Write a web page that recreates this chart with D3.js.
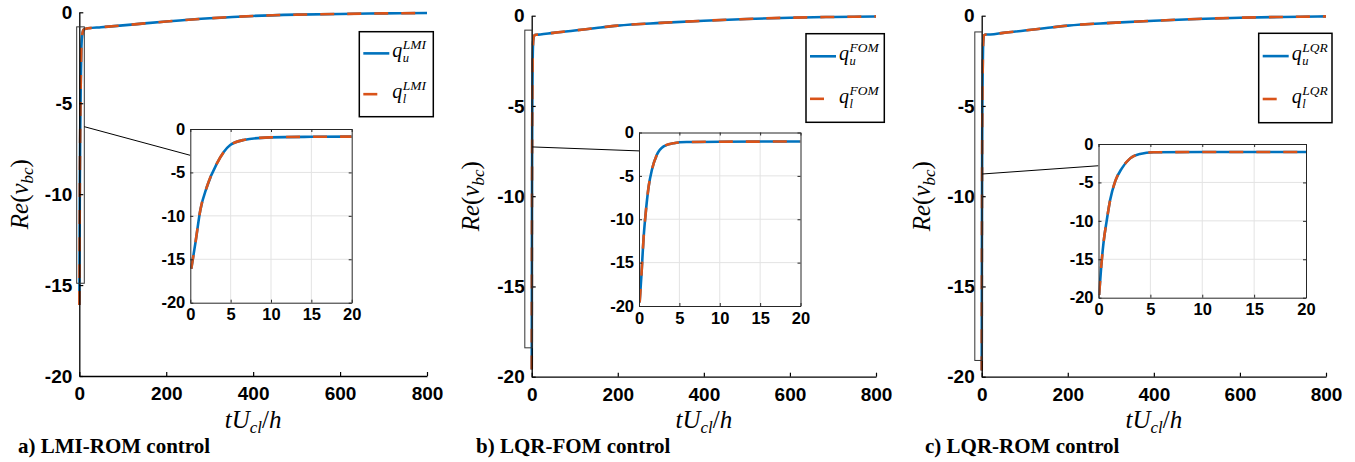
<!DOCTYPE html>
<html><head><meta charset="utf-8">
<script src="https://cdn.jsdelivr.net/npm/d3@7"></script>
<style>body{margin:0;background:#fff}svg{display:block}</style>
</head><body>
<svg id="chart" width="1355" height="462"></svg>
<script>
// ---------- data ----------
const xTicksMain = [0, 200, 400, 600, 800];
const yTicksMain = [-20, -15, -10, -5, 0];
const xTicksInset = [0, 5, 10, 15, 20];
const yTicksInset = [-20, -15, -10, -5, 0];

// a) LMI-ROM control
const tA   = [0.12, 0.62, 1.24, 2.06, 3.3, 4.95, 6.6, 9.9, 15, 20, 50, 100, 150, 200, 300, 400, 500, 600, 700, 800];
const quA  = [-16.1, -13.2, -9.35, -6.65, -3.96, -1.85, -1.27, -0.96, -0.9, -0.88, -0.82, -0.72, -0.61, -0.51, -0.33, -0.2, -0.13, -0.09, -0.06, -0.04];
const qlA  = [-16.1, -13.2, -9.35, -6.65, -3.96, -1.85, -1.27, -0.96, -0.9, -0.88, -0.82, -0.72, -0.61, -0.51, -0.33, -0.2, -0.13, -0.09, -0.06, -0.04];
// b) LQR-FOM control
const tB   = [0.08, 0.29, 0.58, 0.87, 1.2, 1.6, 2.2, 3.05, 4.3, 5.9, 10, 20, 50, 100, 150, 200, 300, 400, 500, 600, 700, 800];
const quB  = [-19.6, -16.6, -12.0, -8.9, -6.2, -4.3, -2.6, -1.6, -1.23, -1.1, -1.06, -1.04, -0.95, -0.82, -0.68, -0.55, -0.4, -0.28, -0.18, -0.11, -0.07, -0.04];
const qlB  = [-19.6, -16.6, -12.0, -8.9, -6.2, -4.3, -2.6, -1.6, -1.23, -1.1, -1.06, -1.04, -0.95, -0.82, -0.68, -0.55, -0.4, -0.28, -0.18, -0.11, -0.07, -0.04];
// c) LQR-ROM control
const tC   = [0.06, 0.26, 0.48, 0.8, 1.12, 1.6, 2.25, 3.05, 4.0, 5.3, 10, 20, 50, 100, 150, 200, 300, 400, 500, 600, 700, 800];
const quC  = [-19.65, -16, -12.9, -9.9, -7.3, -4.9, -3.17, -1.87, -1.3, -1.08, -1.04, -1.04, -0.95, -0.82, -0.68, -0.55, -0.4, -0.28, -0.18, -0.11, -0.07, -0.04];
const qlC  = [-19.65, -16, -12.9, -9.9, -7.3, -4.9, -3.17, -1.87, -1.3, -1.08, -1.04, -1.04, -0.95, -0.82, -0.68, -0.55, -0.4, -0.28, -0.18, -0.11, -0.07, -0.04];

// zoom rectangles [t0, t1, v0, v1] and connectors [tMain, vMain, tInset, vInset]
const rectA = [-6, 11.5, -0.8, -14.9];
const rectB = [-16, 1.4, -0.8, -18.4];
const rectC = [-16, 1.4, -0.9, -19.1];
const connA = [11.5, -6.29, 0, -3.03];
const connB = [1.4, -7.27, 0, -2.12];
const connC = [1.4, -8.77, 0, -2.83];

const legendSup = ["LMI", "FOM", "LQR"];
const captions = ["a) LMI-ROM control", "b) LQR-FOM control", "c) LQR-ROM control"];

// ---------- layout ----------
const panels = [
  {t:tA, u:quA, l:qlA, rect:rectA, conn:connA, sup:legendSup[0], cap:captions[0],
   main:{l:79.3, r:427, t:12.3, b:376}, inset:{l:190.3, r:351.7, t:129, b:302.7},
   leg:{l:359.3, r:433.3, t:31.7, b:116.7}, capX:18, ylabX:27.7},
  {t:tB, u:quB, l:qlB, rect:rectB, conn:connB, sup:legendSup[1], cap:captions[1],
   main:{l:531.7, r:876, t:15.7, b:376.7}, inset:{l:639, r:800.5, t:132.5, b:306},
   leg:{l:806, r:884.3, t:33.7, b:122.3}, capX:476, ylabX:479},
  {t:tC, u:quC, l:qlC, rect:rectC, conn:connC, sup:legendSup[2], cap:captions[2],
   main:{l:981.7, r:1326, t:15.7, b:376.7}, inset:{l:1098.5, r:1306, t:144, b:297.7},
   leg:{l:1258.7, r:1332, t:33.3, b:122.7}, capX:925, ylabX:929.7}
];

const BLUE = "#0072BD", ORANGE = "#D95319";
const SANS = "'Liberation Sans', Arial, Helvetica, sans-serif";
const SERIF = "'Liberation Serif', 'Times New Roman', serif";
const svg = d3.select("#chart");
const defs = svg.append("defs");

function drawCurves(g, x, y, t, u, l, maxT) {
  const pts = (vals) => t.map((d, i) => [d, vals[i]]).filter(p => p[0] <= maxT);
  const line = d3.line().x(d => x(d[0])).y(d => y(d[1])).curve(d3.curveMonotoneX);
  g.append("path").attr("d", line(pts(u))).attr("fill", "none")
    .attr("stroke", BLUE).attr("stroke-width", 2.6);
  g.append("path").attr("d", line(pts(l))).attr("fill", "none")
    .attr("stroke", ORANGE).attr("stroke-width", 2.6).attr("stroke-dasharray", "14,13");
}

panels.forEach((p, pi) => {
  const m = p.main;
  const x = d3.scaleLinear().domain([0, 800]).range([m.l, m.r]);
  const y = d3.scaleLinear().domain([-20, 0]).range([m.b, m.t]);
  const g = svg.append("g");

  drawCurves(g, x, y, p.t, p.u, p.l, 800);

  const ax = g.append("g").attr("transform", `translate(0,${m.b})`)
    .call(d3.axisBottom(x).tickValues(xTicksMain).tickSizeInner(-4).tickSizeOuter(0)
      .tickPadding(11).tickFormat(d => String(d)));
  const ay = g.append("g").attr("transform", `translate(${m.l},0)`)
    .call(d3.axisLeft(y).tickValues(yTicksMain).tickSizeInner(-4).tickSizeOuter(0)
      .tickPadding(7).tickFormat(d => String(d)));
  [ax, ay].forEach(a => {
    a.select(".domain").attr("stroke", "#000").attr("stroke-width", 1.3);
    a.selectAll(".tick line").attr("stroke", "#000").attr("stroke-width", 1.2);
    a.selectAll("text").attr("font-family", SANS).attr("font-weight", "bold")
      .attr("font-size", 19).attr("fill", "#000");
  });

  const r = p.rect;
  g.append("rect").attr("x", x(r[0])).attr("y", y(r[2]))
    .attr("width", x(r[1]) - x(r[0])).attr("height", y(r[3]) - y(r[2]))
    .attr("fill", "none").attr("stroke", "#333").attr("stroke-width", 1);

  const n = p.inset;
  const xi = d3.scaleLinear().domain([0, 20]).range([n.l, n.r]);
  const yi = d3.scaleLinear().domain([-20, 0]).range([n.b, n.t]);

  const c = p.conn;
  g.append("line").attr("x1", x(c[0])).attr("y1", y(c[1]))
    .attr("x2", xi(c[2])).attr("y2", yi(c[3])).attr("stroke", "#000").attr("stroke-width", 1);

  const gi = svg.append("g");
  gi.append("rect").attr("x", n.l).attr("y", n.t).attr("width", n.r - n.l)
    .attr("height", n.b - n.t).attr("fill", "#fff");
  gi.selectAll(".gx").data(xTicksInset.slice(1, -1)).enter().append("line")
    .attr("x1", d => xi(d)).attr("x2", d => xi(d)).attr("y1", n.t).attr("y2", n.b)
    .attr("stroke", "#e3e3e3").attr("stroke-width", 1);
  gi.selectAll(".gy").data(yTicksInset.slice(1, -1)).enter().append("line")
    .attr("y1", d => yi(d)).attr("y2", d => yi(d)).attr("x1", n.l).attr("x2", n.r)
    .attr("stroke", "#e3e3e3").attr("stroke-width", 1);

  const clipId = "clip" + pi;
  defs.append("clipPath").attr("id", clipId).append("rect")
    .attr("x", n.l).attr("y", n.t).attr("width", n.r - n.l).attr("height", n.b - n.t);
  const gc = gi.append("g").attr("clip-path", `url(#${clipId})`);
  drawCurves(gc, xi, yi, p.t, p.u, p.l, 25);

  const styleAx = (a, labels) => {
    a.select(".domain").attr("stroke", "#262626").attr("stroke-width", 1);
    a.selectAll(".tick line").attr("stroke", "#262626");
    a.selectAll("text").attr("font-family", SANS).attr("font-weight", "bold")
      .attr("font-size", 16.5).attr("fill", "#000");
    if (!labels) a.selectAll("text").remove();
  };
  styleAx(gi.append("g").attr("transform", `translate(0,${n.b})`)
    .call(d3.axisBottom(xi).tickValues(xTicksInset).tickSizeInner(-3).tickSizeOuter(0)
      .tickPadding(6).tickFormat(d => String(d))), true);
  styleAx(gi.append("g").attr("transform", `translate(0,${n.t})`)
    .call(d3.axisTop(xi).tickValues(xTicksInset).tickSizeInner(-3).tickSizeOuter(0)), false);
  styleAx(gi.append("g").attr("transform", `translate(${n.l},0)`)
    .call(d3.axisLeft(yi).tickValues(yTicksInset).tickSizeInner(-3).tickSizeOuter(0)
      .tickPadding(5).tickFormat(d => String(d))), true);
  styleAx(gi.append("g").attr("transform", `translate(${n.r},0)`)
    .call(d3.axisRight(yi).tickValues(yTicksInset).tickSizeInner(-3).tickSizeOuter(0)), false);

  // legend
  const L = p.leg, h = L.b - L.t;
  const gl = svg.append("g");
  gl.append("rect").attr("x", L.l).attr("y", L.t).attr("width", L.r - L.l).attr("height", h)
    .attr("fill", "#fff").attr("stroke", "#000").attr("stroke-width", 1.5);
  const y1 = L.t + 0.255 * h, y2 = L.t + 0.735 * h;
  gl.append("line").attr("x1", L.l + 4).attr("x2", L.l + 30).attr("y1", y1).attr("y2", y1)
    .attr("stroke", BLUE).attr("stroke-width", 2.6);
  gl.append("line").attr("x1", L.l + 4).attr("x2", L.l + 18).attr("y1", y2).attr("y2", y2)
    .attr("stroke", ORANGE).attr("stroke-width", 2.6);
  [[y1, "u"], [y2, "l"]].forEach(([yy, sub]) => {
    const qx = L.l + 33, base = yy + 4;
    const mk = (xx, yy2, fs, s) => gl.append("text").attr("x", xx).attr("y", yy2)
      .attr("font-family", SERIF).attr("font-style", "italic").attr("font-size", fs).text(s);
    mk(qx, base, 20, "q");
    mk(qx + 10.5, base + 5, 12.5, sub);
    mk(qx + 10.5, base - 8, 13.5, p.sup);
  });

  // axis labels
  const xl = svg.append("text").attr("x", (m.l + m.r) / 2).attr("y", 428)
    .attr("text-anchor", "middle").attr("font-family", SERIF).attr("font-size", 25)
    .attr("font-style", "italic");
  xl.append("tspan").text("tU");
  xl.append("tspan").attr("font-size", 17).attr("dy", 5).text("cl");
  xl.append("tspan").attr("dy", -5).attr("font-style", "normal").text("/");
  xl.append("tspan").text("h");

  const yc = (m.t + m.b) / 2;
  const yl = svg.append("text").attr("transform", `translate(${p.ylabX},${yc}) rotate(-90)`)
    .attr("text-anchor", "middle").attr("font-family", SERIF).attr("font-size", 25)
    .attr("font-style", "italic");
  yl.append("tspan").text("Re");
  yl.append("tspan").attr("font-style", "normal").text("(");
  yl.append("tspan").text("v");
  yl.append("tspan").attr("font-size", 17).attr("dy", 5).text("bc");
  yl.append("tspan").attr("dy", -5).attr("font-style", "normal").text(")");

  svg.append("text").attr("x", p.capX).attr("y", 453).attr("font-family", SERIF)
    .attr("font-weight", "bold").attr("font-size", 21).text(p.cap);
});
</script>
</body></html>
